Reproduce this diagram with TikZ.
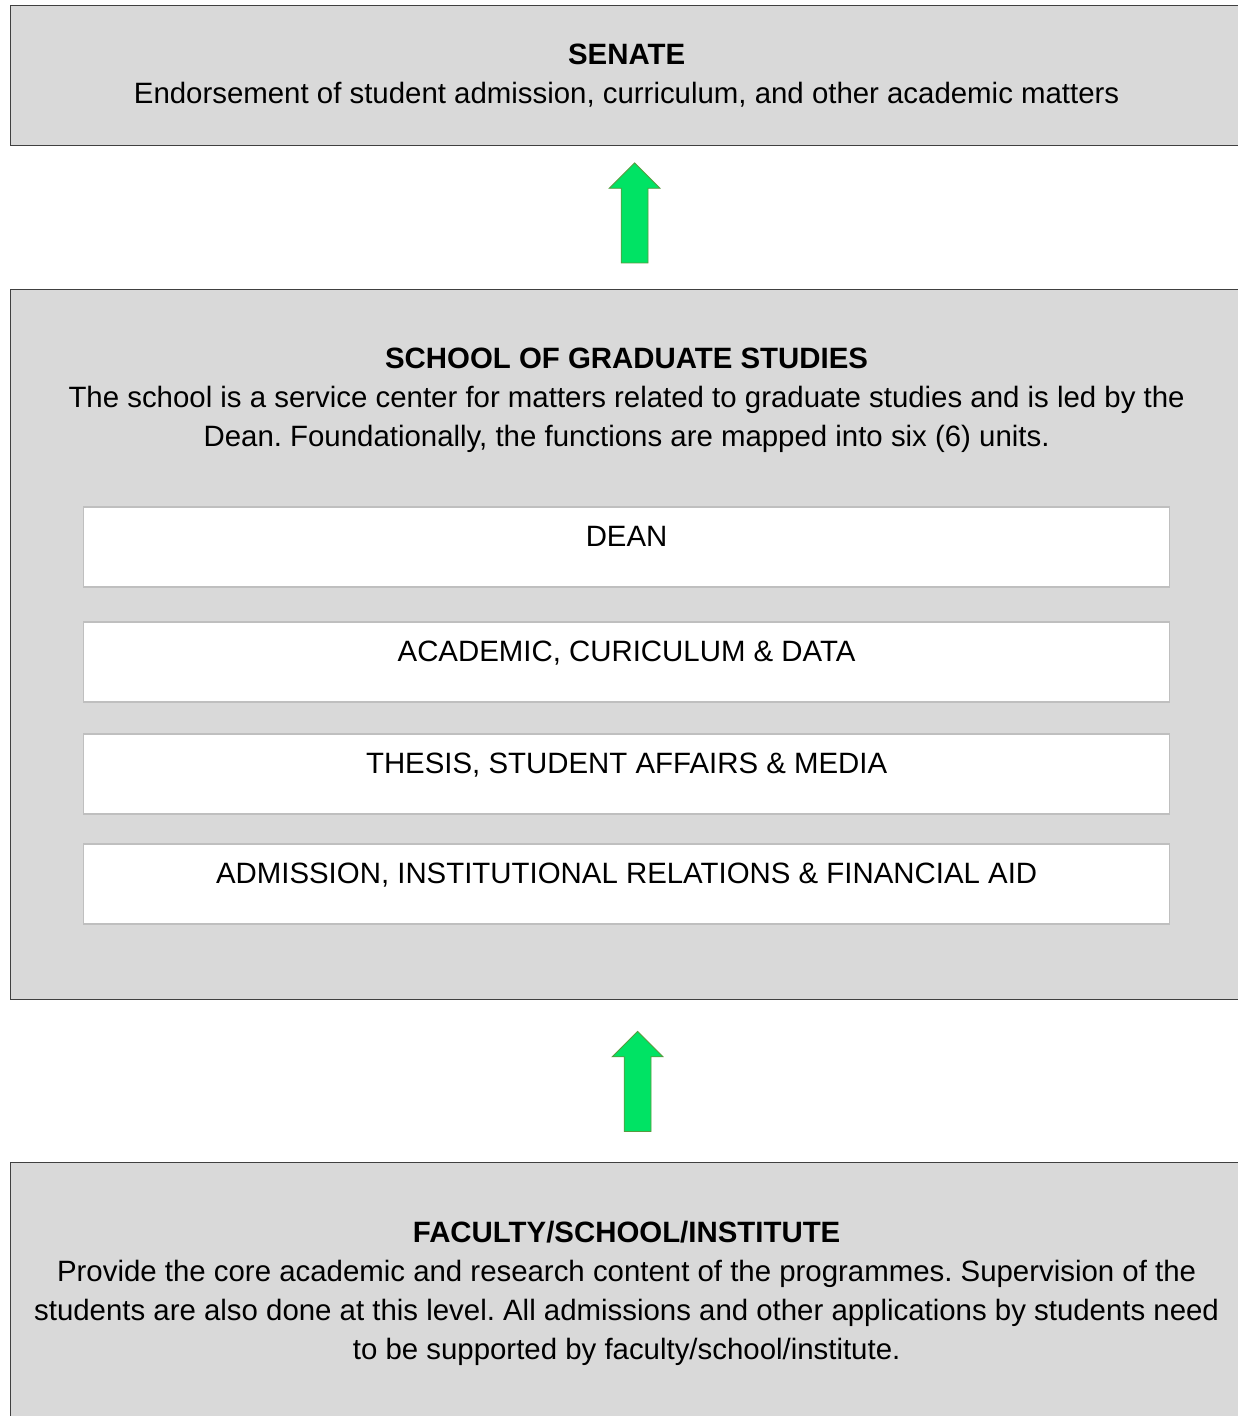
\documentclass[tikz,border=0pt]{standalone}
\usepackage{fontspec}
\setmainfont{Liberation Sans}
\usetikzlibrary{positioning,calc,shapes.arrows}

\definecolor{panelgray}{HTML}{D9D9D9}
\definecolor{unitline}{HTML}{BFBFBF}
\definecolor{liftgreen}{HTML}{00E364}
\definecolor{liftedge}{HTML}{589A3E}

\begin{document}
\frenchspacing
\begin{tikzpicture}[x=1pt,y=-1pt,
  every node/.style={font=\fontsize{29.4}{39}\selectfont},
  panel/.style={draw=black!75, line width=1.2pt, fill=panelgray, minimum width=1232pt, align=center, anchor=north west},
  unit/.style={draw=unitline, line width=1.2pt, fill=white, minimum width=1086pt, outer sep=0pt,
    inner ysep=18.5pt, text height=21pt, text depth=22pt},
  lift/.style={single arrow, draw=liftedge, fill=liftgreen, line width=0.8pt, rotate=90,
    minimum height=100pt, inner sep=13pt, single arrow head extend=12pt}]
  \path[use as bounding box, clip] (0,0) rectangle (1238,1416);

  % the three levels
  \node[panel, minimum height=140pt] (senate) at (10,5)
    {\textbf{SENATE}\\Endorsement of student admission, curriculum, and other academic matters};
  \node[panel, minimum height=710pt] (school) at (10,289) {};
  \node[panel, minimum height=262pt] (faculty) at (10,1162)
    {\textbf{FACULTY/SCHOOL/INSTITUTE}\\
     Provide the core academic and research content of the programmes. Supervision of the\\
     students are also done at this level. All admissions and other applications by students need\\
     to be supported by faculty/school/institute.};

  \node[align=center, below=55pt of school.north] (schooltxt)
    {\textbf{SCHOOL OF GRADUATE STUDIES}\\
     The school is a service center for matters related to graduate studies and is led by the\\
     Dean. Foundationally, the functions are mapped into six (6) units.};

  % units
  \node[unit, below=218pt of school.north] (dean) {DEAN};
  \node[unit, below=35pt of dean] (acad) {ACADEMIC, CURICULUM \& DATA};
  \node[unit, below=32pt of acad] (thesis) {THESIS, STUDENT AFFAIRS \& MEDIA};
  \node[unit, below=30pt of thesis] (admit) {ADMISSION, INSTITUTIONAL RELATIONS \& FINANCIAL AID};

  % arrows
  \node[lift] (lift1) at ($(senate.south)!0.5!(school.north)+(8,2)$) {};
  \node[lift] (lift2) at ($(school.south)!0.5!(faculty.north)+(11,7)$) {};
\end{tikzpicture}
\end{document}
